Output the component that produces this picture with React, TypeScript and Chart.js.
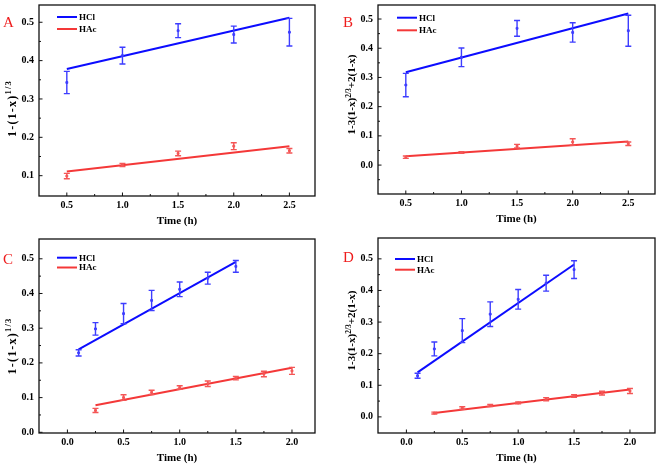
import React, { useEffect, useRef } from "react";
import { Chart, registerables } from "chart.js";

Chart.register(...registerables);

// ---------- Panel A : 1-(1-x)^(1/3) ----------
const timeA = [0.5, 1.0, 1.5, 2.0, 2.5];
const hclA = [0.343, 0.413, 0.478, 0.468, 0.474];
const hclErrA = [0.029, 0.022, 0.018, 0.022, 0.036];
const hacA = [0.099, 0.128, 0.158, 0.177, 0.165];
const hacErrA = [0.007, 0.004, 0.006, 0.009, 0.006];
const fitTimeA = [0.5, 2.5];
const hclFitA = [0.378, 0.512];
const hacFitA = [0.111, 0.177];

// ---------- Panel B : 1-3(1-x)^(2/3)+2(1-x) ----------
const timeB = [0.5, 1.0, 1.5, 2.0, 2.5];
const hclB = [0.274, 0.369, 0.468, 0.454, 0.46];
const hclErrB = [0.04, 0.032, 0.027, 0.033, 0.053];
const hacB = [0.027, 0.043, 0.065, 0.079, 0.073];
const hacErrB = [0.004, 0.003, 0.006, 0.011, 0.006];
const fitTimeB = [0.5, 2.5];
const hclFitB = [0.318, 0.519];
const hacFitB = [0.03, 0.081];

// ---------- Panel C : 1-(1-x)^(1/3) ----------
const timeHclC = [0.1, 0.25, 0.5, 0.75, 1.0, 1.25, 1.5];
const hclC = [0.229, 0.298, 0.342, 0.38, 0.412, 0.444, 0.478];
const hclErrC = [0.009, 0.018, 0.029, 0.029, 0.021, 0.017, 0.017];
const timeHacC = [0.25, 0.5, 0.75, 1.0, 1.25, 1.5, 1.75, 2.0];
const hacC = [0.063, 0.1, 0.115, 0.129, 0.14, 0.156, 0.168, 0.177];
const hacErrC = [0.006, 0.008, 0.006, 0.005, 0.008, 0.005, 0.008, 0.01];
const fitTimeHclC = [0.1, 1.5];
const hclFitC = [0.239, 0.491];
const fitTimeHacC = [0.25, 2.0];
const hacFitC = [0.078, 0.186];

// ---------- Panel D : 1-3(1-x)^(2/3)+2(1-x) ----------
const timeHclD = [0.1, 0.25, 0.5, 0.75, 1.0, 1.25, 1.5];
const hclD = [0.13, 0.215, 0.273, 0.325, 0.372, 0.423, 0.466];
const hclErrD = [0.008, 0.022, 0.038, 0.039, 0.031, 0.025, 0.028];
const timeHacD = [0.25, 0.5, 0.75, 1.0, 1.25, 1.5, 1.75, 2.0];
const hacD = [0.012, 0.028, 0.036, 0.044, 0.056, 0.066, 0.075, 0.082];
const hacErrD = [0.003, 0.004, 0.003, 0.003, 0.005, 0.004, 0.006, 0.008];
const fitTimeHclD = [0.1, 1.5];
const hclFitD = [0.141, 0.482];
const fitTimeHacD = [0.25, 2.0];
const hacFitD = [0.0125, 0.087];

// ---------- Ticks ----------
const xTicksAB = [0.5, 1.0, 1.5, 2.0, 2.5];
const xMinorAB = [0.75, 1.25, 1.75, 2.25];
const xTicksCD = [0.0, 0.5, 1.0, 1.5, 2.0];
const xMinorCD = [0.25, 0.75, 1.25, 1.75];
const yTicksA = [0.1, 0.2, 0.3, 0.4, 0.5];
const yMinorA = [0.15, 0.25, 0.35, 0.45];
const yTicksB = [0.0, 0.1, 0.2, 0.3, 0.4, 0.5];
const yMinorB = [-0.05, 0.05, 0.15, 0.25, 0.35, 0.45];
const yTicksC = [0.0, 0.1, 0.2, 0.3, 0.4, 0.5];
const yMinorC = [0.05, 0.15, 0.25, 0.35, 0.45];
const yTicksD = [0.0, 0.1, 0.2, 0.3, 0.4, 0.5];
const yMinorD = [0.05, 0.15, 0.25, 0.35, 0.45];

const seriesNames = ["HCl", "HAc"];
const xTitle = "Time (h)";
type Run = { t: string; sup?: boolean };
const yTitleShrink: Run[] = [{ t: "1-(1-x)" }, { t: "1/3", sup: true }];
const yTitleDiff: Run[] = [{ t: "1-3(1-x)" }, { t: "2/3", sup: true }, { t: "+2(1-x)" }];

const FONT = "'Liberation Serif', 'Times New Roman', serif";
const BLUE_LINE = "#0c0cff";
const BLUE_ERR = "#3d3dff";
const RED_LINE = "#f43838";
const RED_ERR = "#f45656";

const pts = (xs: number[], ys: number[]) => xs.map((x, i) => ({ x, y: ys[i] }));

interface Panel {
  letter: string;
  pos: { left: number; top: number; width: number; height: number };
  area: { l: number; t: number; r: number; b: number };
  xMin: number; xMax: number; yMin: number; yMax: number;
  xTicks: number[]; xMinor: number[]; yTicks: number[]; yMinor: number[];
  yTitle: Run[];
  yTitleStyle: { x: number; dy: number; main: number; sup: number; supRise: number; spacing: number };
  legend: { x: number; y: number; dy: number };
  letterPos: { x: number; y: number };
  hcl: { x: number[]; y: number[]; e: number[]; fx: number[]; fy: number[] };
  hac: { x: number[]; y: number[]; e: number[]; fx: number[]; fy: number[] };
}

const panels: Panel[] = [
  {
    letter: "A",
    pos: { left: 0, top: 0, width: 330, height: 233 },
    area: { l: 39, t: 4, r: 315, b: 196 },
    xMin: 0.25, xMax: 2.73, yMin: 0.047, yMax: 0.545,
    xTicks: xTicksAB, xMinor: xMinorAB, yTicks: yTicksA, yMinor: yMinorA,
    yTitle: yTitleShrink,
    yTitleStyle: { x: 12, dy: 8, main: 12, sup: 8.5, supRise: -1.5, spacing: 1.2 },
    legend: { x: 18, y: 12, dy: 12 },
    letterPos: { x: 3, y: 27 },
    hcl: { x: timeA, y: hclA, e: hclErrA, fx: fitTimeA, fy: hclFitA },
    hac: { x: timeA, y: hacA, e: hacErrA, fx: fitTimeA, fy: hacFitA },
  },
  {
    letter: "B",
    pos: { left: 330, top: 0, width: 331, height: 233 },
    area: { l: 48, t: 3, r: 325, b: 194 },
    xMin: 0.25, xMax: 2.74, yMin: -0.099, yMax: 0.548,
    xTicks: xTicksAB, xMinor: xMinorAB, yTicks: yTicksB, yMinor: yMinorB,
    yTitle: yTitleDiff,
    yTitleStyle: { x: 21, dy: -5, main: 11, sup: 7.5, supRise: -0.5, spacing: 0 },
    legend: { x: 19, y: 12.7, dy: 12.6 },
    letterPos: { x: 13, y: 27 },
    hcl: { x: timeB, y: hclB, e: hclErrB, fx: fitTimeB, fy: hclFitB },
    hac: { x: timeB, y: hacB, e: hacErrB, fx: fitTimeB, fy: hacFitB },
  },
  {
    letter: "C",
    pos: { left: 0, top: 233, width: 330, height: 233 },
    area: { l: 39, t: 6, r: 315, b: 200 },
    xMin: -0.253, xMax: 2.205, yMin: -0.002, yMax: 0.557,
    xTicks: xTicksCD, xMinor: xMinorCD, yTicks: yTicksC, yMinor: yMinorC,
    yTitle: yTitleShrink,
    yTitleStyle: { x: 12, dy: 10, main: 12, sup: 8.5, supRise: -1.5, spacing: 1.2 },
    legend: { x: 18, y: 18.7, dy: 9.8 },
    letterPos: { x: 3, y: 31 },
    hcl: { x: timeHclC, y: hclC, e: hclErrC, fx: fitTimeHclC, fy: hclFitC },
    hac: { x: timeHacC, y: hacC, e: hacErrC, fx: fitTimeHacC, fy: hacFitC },
  },
  {
    letter: "D",
    pos: { left: 330, top: 233, width: 331, height: 233 },
    area: { l: 48, t: 3, r: 325, b: 200 },
    xMin: -0.254, xMax: 2.224, yMin: -0.051, yMax: 0.566,
    xTicks: xTicksCD, xMinor: xMinorCD, yTicks: yTicksD, yMinor: yMinorD,
    yTitle: yTitleDiff,
    yTitleStyle: { x: 21, dy: -5, main: 11, sup: 7.5, supRise: -0.5, spacing: 0 },
    legend: { x: 17, y: 21, dy: 10.7 },
    letterPos: { x: 13, y: 29 },
    hcl: { x: timeHclD, y: hclD, e: hclErrD, fx: fitTimeHclD, fy: hclFitD },
    hac: { x: timeHacD, y: hacD, e: hacErrD, fx: fitTimeHacD, fy: hacFitD },
  },
];

const decoPlugin = {
  id: "deco",
  afterDatasetsDraw(chart: any) {
    const ctx = chart.ctx;
    const ys = chart.scales.y;
    chart.data.datasets.forEach((ds: any, i: number) => {
      const errs: number[] | undefined = ds.errors;
      if (!errs) return;
      const meta = chart.getDatasetMeta(i);
      ctx.save();
      ctx.strokeStyle = ds.borderColor;
      ctx.lineWidth = 1.4;
      meta.data.forEach((el: any, j: number) => {
        const v = ds.data[j].y;
        const e = errs[j];
        const x = el.x;
        const y1 = ys.getPixelForValue(v + e);
        const y2 = ys.getPixelForValue(v - e);
        ctx.beginPath();
        ctx.moveTo(x, y1);
        ctx.lineTo(x, y2);
        ctx.moveTo(x - 3, y1);
        ctx.lineTo(x + 3, y1);
        ctx.moveTo(x - 3, y2);
        ctx.lineTo(x + 3, y2);
        ctx.stroke();
      });
      ctx.restore();
    });
  },
  afterDraw(chart: any, _args: any, opts: any) {
    const p: Panel = opts.panel;
    const ctx = chart.ctx;
    const a = chart.chartArea;
    const xs = chart.scales.x;
    const ys = chart.scales.y;
    ctx.save();
    // frame
    ctx.strokeStyle = "#111";
    ctx.lineWidth = 1.3;
    ctx.strokeRect(a.left, a.top, a.right - a.left, a.bottom - a.top);
    // inward ticks
    ctx.lineWidth = 1;
    ctx.beginPath();
    p.xTicks.forEach((v) => {
      const x = xs.getPixelForValue(v);
      ctx.moveTo(x, a.bottom);
      ctx.lineTo(x, a.bottom - 3.5);
    });
    p.xMinor.forEach((v) => {
      const x = xs.getPixelForValue(v);
      ctx.moveTo(x, a.bottom);
      ctx.lineTo(x, a.bottom - 2);
    });
    p.yTicks.forEach((v) => {
      const y = ys.getPixelForValue(v);
      ctx.moveTo(a.left, y);
      ctx.lineTo(a.left + 3.5, y);
    });
    p.yMinor.forEach((v) => {
      const y = ys.getPixelForValue(v);
      ctx.moveTo(a.left, y);
      ctx.lineTo(a.left + 2, y);
    });
    ctx.stroke();

    // legend
    const fits = chart.data.datasets.filter((d: any) => d.isFit);
    fits.forEach((d: any, i: number) => {
      const y = a.top + p.legend.y + i * p.legend.dy;
      const x0 = a.left + p.legend.x;
      ctx.strokeStyle = d.borderColor;
      ctx.lineWidth = 2;
      ctx.beginPath();
      ctx.moveTo(x0, y);
      ctx.lineTo(x0 + 20, y);
      ctx.stroke();
      ctx.fillStyle = "#000";
      ctx.font = `bold 9px ${FONT}`;
      ctx.textAlign = "left";
      ctx.textBaseline = "middle";
      ctx.fillText(d.label, x0 + 22, y + 0.5);
    });

    // panel letter
    ctx.fillStyle = "#ee1c1c";
    ctx.font = `15px ${FONT}`;
    ctx.textAlign = "left";
    ctx.textBaseline = "alphabetic";
    ctx.fillText(p.letter, p.letterPos.x, p.letterPos.y);

    // x title
    ctx.fillStyle = "#000";
    ctx.font = `bold 11px ${FONT}`;
    ctx.textAlign = "center";
    ctx.textBaseline = "alphabetic";
    ctx.fillText(xTitle, (a.left + a.right) / 2, a.bottom + 28);

    // y title with superscript
    const st = p.yTitleStyle;
    (ctx as any).letterSpacing = `${st.spacing}px`;
    let total = 0;
    p.yTitle.forEach((r) => {
      ctx.font = `bold ${r.sup ? st.sup : st.main}px ${FONT}`;
      total += ctx.measureText(r.t).width;
    });
    ctx.translate(st.x, (a.top + a.bottom) / 2 + st.dy);
    ctx.rotate(-Math.PI / 2);
    let cx = -total / 2;
    ctx.textAlign = "left";
    const base = st.main * 0.35;
    p.yTitle.forEach((r) => {
      ctx.font = `bold ${r.sup ? st.sup : st.main}px ${FONT}`;
      ctx.fillText(r.t, cx, r.sup ? st.supRise : base);
      cx += ctx.measureText(r.t).width;
    });
    (ctx as any).letterSpacing = "0px";
    ctx.restore();
  },
};

function PanelChart({ p }: { p: Panel }) {
  const ref = useRef<HTMLCanvasElement | null>(null);
  useEffect(() => {
    if (!ref.current) return;
    const tickFont = { family: FONT, size: 10, weight: "bold" as const };
    const chart = new Chart(ref.current, {
      type: "scatter",
      data: {
        datasets: [
          {
            label: seriesNames[0] + " data",
            data: pts(p.hcl.x, p.hcl.y),
            errors: p.hcl.e,
            borderColor: BLUE_ERR,
            backgroundColor: BLUE_ERR,
            pointStyle: "rect",
            pointRadius: 1.3,
            showLine: false,
          } as any,
          {
            label: seriesNames[1] + " data",
            data: pts(p.hac.x, p.hac.y),
            errors: p.hac.e,
            borderColor: RED_ERR,
            backgroundColor: RED_ERR,
            pointStyle: "rect",
            pointRadius: 1.3,
            showLine: false,
          } as any,
          {
            label: seriesNames[0],
            isFit: true,
            data: pts(p.hcl.fx, p.hcl.fy),
            borderColor: BLUE_LINE,
            backgroundColor: BLUE_LINE,
            borderWidth: 2,
            pointRadius: 0,
            showLine: true,
          } as any,
          {
            label: seriesNames[1],
            isFit: true,
            data: pts(p.hac.fx, p.hac.fy),
            borderColor: RED_LINE,
            backgroundColor: RED_LINE,
            borderWidth: 2,
            pointRadius: 0,
            showLine: true,
          } as any,
        ],
      },
      options: {
        animation: false,
        responsive: false,
        maintainAspectRatio: false,
        layout: {
          padding: { left: 0, top: p.area.t, right: p.pos.width - p.area.r, bottom: 0 },
        },
        plugins: {
          legend: { display: false },
          tooltip: { enabled: false },
          deco: { panel: p },
        } as any,
        scales: {
          x: {
            type: "linear",
            min: p.xMin,
            max: p.xMax,
            grid: { display: false, drawTicks: false },
            border: { display: false },
            ticks: {
              font: tickFont,
              color: "#000",
              padding: 3,
              maxRotation: 0,
              autoSkip: false,
              callback: (v: any) => Number(v).toFixed(1),
            },
            afterBuildTicks: (s: any) => {
              s.ticks = p.xTicks.map((value) => ({ value }));
            },
            afterFit: (s: any) => {
              s.height = p.pos.height - p.area.b;
              s.paddingLeft = 0;
              s.paddingRight = 0;
              s.paddingTop = 0;
              s.paddingBottom = 0;
            },
          },
          y: {
            type: "linear",
            min: p.yMin,
            max: p.yMax,
            grid: { display: false, drawTicks: false },
            border: { display: false },
            ticks: {
              font: tickFont,
              color: "#000",
              padding: 5,
              autoSkip: false,
              callback: (v: any) => Number(v).toFixed(1),
            },
            afterBuildTicks: (s: any) => {
              s.ticks = p.yTicks.map((value) => ({ value }));
            },
            afterFit: (s: any) => {
              s.width = p.area.l;
              s.paddingLeft = 0;
              s.paddingRight = 0;
              s.paddingTop = 0;
              s.paddingBottom = 0;
            },
          },
        },
      } as any,
      plugins: [decoPlugin as any],
    });
    return () => chart.destroy();
  }, [p]);
  return (
    <canvas
      ref={ref}
      width={p.pos.width}
      height={p.pos.height}
      style={{
        position: "absolute",
        left: p.pos.left,
        top: p.pos.top,
        width: p.pos.width,
        height: p.pos.height,
      }}
    />
  );
}

export default function App() {
  useEffect(() => {
    document.body.style.margin = "0";
    document.body.style.background = "#fff";
  }, []);
  return (
    <div style={{ position: "relative", width: 661, height: 466, background: "#fff", overflow: "hidden" }}>
      {panels.map((p) => (
        <PanelChart key={p.letter} p={p} />
      ))}
    </div>
  );
}
